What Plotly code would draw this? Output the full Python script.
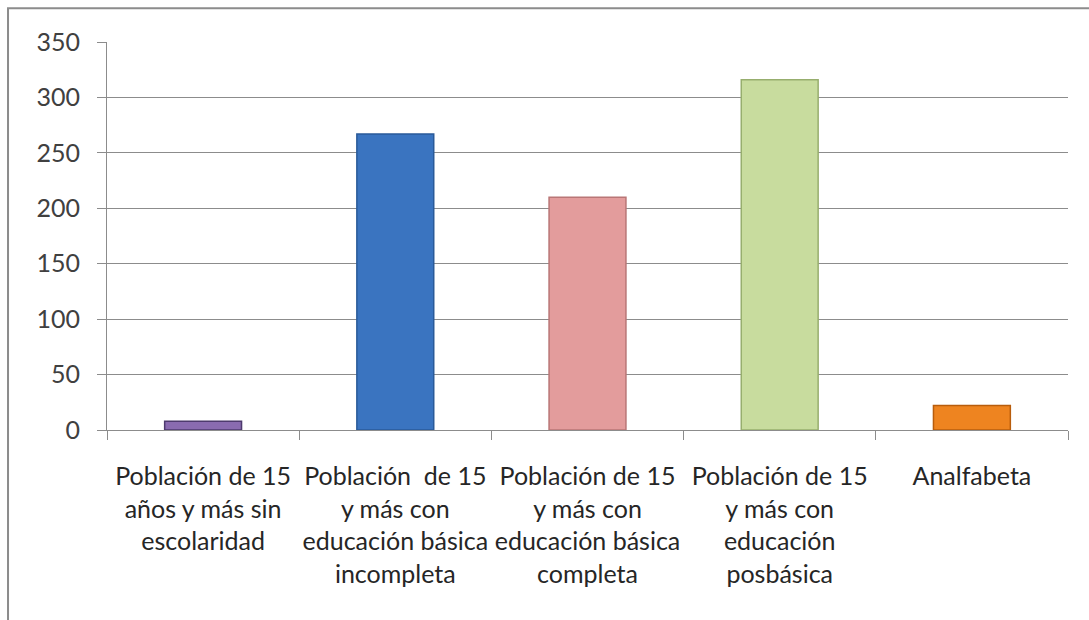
import plotly.graph_objects as go

categories = [
    "Población de 15<br>años y más sin<br>escolaridad",
    "Población  de 15<br>y más con<br>educación básica<br>incompleta",
    "Población de 15<br>y más con<br>educación básica<br>completa",
    "Población de 15<br>y más con<br>educación<br>posbásica",
    "Analfabeta",
]
values = [8, 267, 210, 316, 22]
bar_colors = ["#8A6BB0", "#3A74C0", "#E39C9C", "#C8DC9E", "#EE8420"]
edge_colors = ["#4E3A6E", "#2A5A99", "#B97676", "#97AE6E", "#B85D0C"]
y_ticks = [0, 50, 100, 150, 200, 250, 300, 350]

font_family = "Lato, Liberation Sans, Arial, sans-serif"

fig = go.Figure(
    go.Bar(
        x=categories,
        y=values,
        marker=dict(color=bar_colors, line=dict(color=edge_colors, width=1.5)),
    )
)

fig.update_layout(
    width=1089,
    height=620,
    margin=dict(l=107, r=21, t=42, b=190),
    paper_bgcolor="white",
    plot_bgcolor="white",
    bargap=0.6,
    showlegend=False,
    font=dict(family=font_family, color="#404040"),
    shapes=[
        dict(
            type="rect", xref="paper", yref="paper",
            x0=-0.103, x1=1.1, y0=-0.6, y1=1.087,
            line=dict(color="#8C8C8C", width=2), fillcolor="rgba(0,0,0,0)",
            layer="below",
        )
    ],
)

fig.update_yaxes(
    range=[0, 350],
    tickvals=y_ticks,
    showgrid=True,
    gridcolor="#8C8C8C",
    gridwidth=1,
    showline=True,
    linecolor="#8C8C8C",
    linewidth=1,
    ticks="outside",
    ticklen=9,
    tickcolor="#8C8C8C",
    tickfont=dict(size=25, family=font_family, color="#404040"),
    ticklabelstandoff=12,
    zeroline=False,
)

fig.update_xaxes(
    showline=True,
    linecolor="#8C8C8C",
    linewidth=1,
    ticks="outside",
    tickson="boundaries",
    ticklen=9,
    tickcolor="#8C8C8C",
    tickangle=0,
    tickfont=dict(size=25, family=font_family, color="#262626"),
    ticklabelstandoff=24,
)

fig.write_html("out.html")
